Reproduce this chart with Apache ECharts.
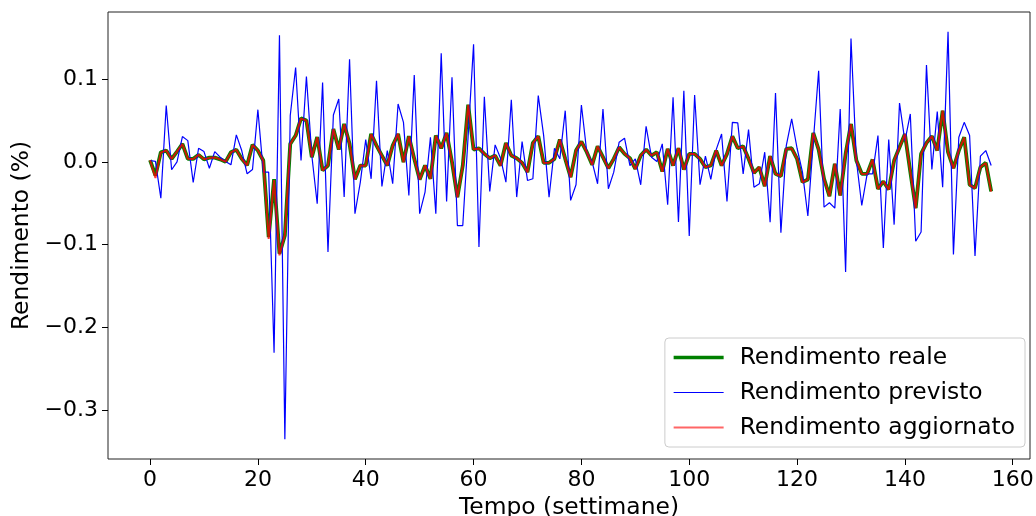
<!DOCTYPE html>
<html>
<head>
<meta charset="utf-8">
<script src="https://cdn.jsdelivr.net/npm/echarts@6/dist/echarts.min.js"></script>
<style>html,body{margin:0;padding:0;background:#fff}#c{width:1036px;height:516px}</style>
</head>
<body>
<div id="c"></div>
<script>
const weeks = Array.from({length: 157}, (_, i) => i);
const xTicks = [0, 20, 40, 60, 80, 100, 120, 140, 160];
const yTicks = [-0.3, -0.2, -0.1, 0.0, 0.1];
const legendNames = ['Rendimento reale', 'Rendimento previsto', 'Rendimento aggiornato'];

const reale = [
0.002,-0.0165,0.0116,0.0136,0.0036,0.0124,0.0217,0.0036,0.0036,0.0084,
0.003,0.005,0.005,0.003,0.0,0.0116,0.0145,0.0036,-0.004,0.0205,
0.0136,0.0016,-0.091,-0.021,-0.111,-0.089,0.0217,0.0317,0.0525,0.05,
0.0056,0.030,-0.0104,-0.0045,0.0397,0.0148,0.0458,0.0217,-0.021,-0.0045,
-0.0045,0.0337,0.0196,0.0076,-0.0045,0.0196,0.0337,-0.0004,0.0309,0.0036,
-0.0213,-0.0045,-0.0205,0.0317,0.0164,0.0349,-0.0004,-0.0426,-0.0045,0.069,
0.0148,0.0164,0.0096,0.0044,0.0076,-0.0045,0.0229,0.0076,0.0044,-0.0012,
-0.0125,0.0229,0.0309,-0.0012,-0.0012,0.0036,0.0269,0.0036,-0.0185,0.0136,
0.0245,0.0116,-0.0036,0.0188,0.0056,-0.0077,0.0036,0.0176,0.0096,0.0044,
-0.0085,0.0076,0.0148,0.0076,0.0116,-0.0117,0.0156,-0.0045,0.0164,-0.0093,
0.0096,0.0096,0.0036,-0.0065,-0.0045,0.0136,-0.0045,0.0096,0.0309,0.0164,
0.0188,0.0036,-0.0133,-0.0065,-0.0294,0.0068,-0.0145,-0.0173,0.0156,0.0164,
0.0036,-0.0245,-0.0213,0.0349,0.0148,-0.0205,-0.0414,-0.0024,-0.0406,0.0096,
0.0458,0.0016,-0.0145,-0.0145,0.0028,-0.0326,-0.0237,-0.0334,0.0016,0.0176,
0.0337,-0.012,-0.0559,0.0096,0.0229,0.0309,0.0136,0.0618,0.0116,-0.0077,
0.0136,0.0297,-0.0277,-0.0318,-0.0065,-0.0012,-0.0358
];

const previsto = [
0.0016,0.0005,-0.044,0.068,-0.0096,0.0,0.0305,0.0256,-0.025,0.0164,
0.0124,-0.0077,0.0124,0.0056,0.0005,-0.0036,0.0325,0.0136,-0.0145,-0.0093,
0.063,-0.0125,-0.0125,-0.2306,0.153,-0.335,0.0558,0.114,0.0016,0.103,
0.0076,-0.0506,0.0959,-0.109,0.0566,0.0759,-0.0426,0.124,-0.0627,-0.0245,
0.0269,-0.0205,0.098,-0.0298,0.0136,-0.0265,0.0699,0.0477,-0.0406,0.1048,
-0.0627,-0.0366,0.0297,-0.0627,0.131,-0.0478,0.102,-0.077,-0.077,0.0317,
0.142,-0.103,0.0787,-0.0358,0.0205,0.0044,-0.0245,0.075,-0.0426,0.0245,
-0.0225,-0.0205,0.08,0.0317,-0.0426,0.0164,0.0036,0.0618,-0.0466,-0.0277,
0.0687,0.0116,-0.0004,-0.0265,0.0639,-0.0325,-0.0125,0.0237,0.0285,-0.0045,
0.0036,-0.0277,0.0429,0.0056,0.0004,0.0217,-0.0518,0.0779,-0.0727,0.0859,
-0.0896,0.0807,-0.0277,0.0068,-0.0213,0.0148,0.0337,-0.0478,0.0477,0.047,
-0.0145,0.0389,-0.0306,-0.0265,0.0116,-0.073,0.083,-0.0856,0.0196,0.0518,
0.0164,-0.0125,-0.0655,0.0237,0.11,-0.0547,-0.0494,-0.0559,0.0639,-0.133,
0.149,0.0016,-0.0527,-0.0145,-0.0145,0.0317,-0.104,0.0269,-0.0759,0.071,
0.025,0.0578,-0.096,-0.0848,0.1168,-0.0093,0.0606,-0.0306,0.157,-0.112,
0.0297,0.0477,0.0317,-0.1137,0.0068,0.0136,-0.0045
];

const aggiornato = [
0.002,-0.0195,0.0112,0.0138,0.0034,0.0126,0.0215,0.0038,0.0034,0.0086,
0.003,0.0048,0.0052,0.003,0.0002,0.0114,0.0147,0.0034,-0.0042,0.0203,
0.0138,0.0014,-0.093,-0.022,-0.113,-0.088,0.0215,0.0319,0.0522,0.0498,
0.0058,0.0298,-0.0106,-0.0043,0.0395,0.015,0.0455,0.0219,-0.0212,-0.0043,
-0.0047,0.0335,0.0198,0.0074,-0.0043,0.0194,0.0339,-0.0006,0.0307,0.0038,
-0.0215,-0.0043,-0.0207,0.0315,0.0166,0.0347,-0.0002,-0.0428,-0.0043,0.0688,
0.015,0.0162,0.0098,0.0042,0.0078,-0.0047,0.0227,0.0078,0.0042,-0.001,
-0.0127,0.0227,0.0311,-0.0014,-0.001,0.0034,0.0271,0.0034,-0.0187,0.0138,
0.0243,0.0118,-0.0038,0.019,0.0054,-0.0079,0.0038,0.0174,0.0098,0.0042,
-0.0087,0.0078,0.0146,0.0078,0.0114,-0.0119,0.0158,-0.0047,0.0166,-0.0095,
0.0098,0.0094,0.0038,-0.0067,-0.0043,0.0138,-0.0047,0.0098,0.0307,0.0166,
0.0186,0.0038,-0.0135,-0.0063,-0.0296,0.007,-0.0147,-0.0171,0.0158,0.0162,
0.0038,-0.0247,-0.0211,0.0347,0.015,-0.0207,-0.0416,-0.0022,-0.0408,0.0098,
0.0456,0.0018,-0.0147,-0.0143,0.003,-0.0328,-0.0235,-0.0336,0.0018,0.0174,
0.0335,-0.0122,-0.0561,0.0098,0.0227,0.0311,0.0134,0.062,0.0114,-0.0079,
0.0138,0.0295,-0.0279,-0.032,-0.0063,-0.0014,-0.036
];

const FONT = 'DejaVu Sans';
const GREEN = '#008000', BLUE = '#0000ff', RED = 'rgba(255,0,0,0.78)', RED_LEGEND = 'rgba(255,0,0,0.6)';
const fmtY = v => (v < 0 ? '\u2212' : '') + Math.abs(v).toFixed(1);
const pair = arr => weeks.map((w, i) => [w, arr[i]]);

const chart = echarts.init(document.getElementById('c'), null, {renderer: 'canvas'});
chart.setOption({
  animation: false,
  backgroundColor: '#fff',
  grid: {left: 108, right: 6, top: 12, bottom: 57, containLabel: false, outerBoundsMode: 'none',
         show: true, borderColor: '#222', borderWidth: 1, backgroundColor: 'transparent'},
  xAxis: {
    type: 'value', min: -7.8, max: 163.2,
    name: 'Tempo (settimane)', nameLocation: 'middle', nameGap: 37,
    nameTextStyle: {fontFamily: FONT, fontSize: 23.4, color: '#000'},
    axisLine: {show: false, onZero: false},
    splitLine: {show: false},
    axisTick: {show: true, inside: false, length: 6, lineStyle: {color: '#000', width: 1}, customValues: xTicks},
    axisLabel: {fontFamily: FONT, fontSize: 22, color: '#000', margin: 10, customValues: xTicks, formatter: v => String(Math.round(v))}
  },
  yAxis: {
    type: 'value', min: -0.359, max: 0.181,
    name: 'Rendimento (%)', nameLocation: 'middle', nameGap: 72, nameRotate: 90,
    nameTextStyle: {fontFamily: FONT, fontSize: 23.4, color: '#000'},
    axisLine: {show: false, onZero: false},
    splitLine: {show: false},
    axisTick: {show: true, inside: false, length: 6, lineStyle: {color: '#000', width: 1}, customValues: yTicks},
    axisLabel: {fontFamily: FONT, fontSize: 22, color: '#000', margin: 10, customValues: yTicks, formatter: fmtY}
  },
  legend: {
    data: [
      {name: legendNames[0], lineStyle: {color: GREEN, width: 3.5}},
      {name: legendNames[1], lineStyle: {color: BLUE, width: 1.2}},
      {name: legendNames[2], lineStyle: {color: RED_LEGEND, width: 1.8}}
    ],
    orient: 'vertical', right: 11, bottom: 69,
    padding: [8, 10, 8, 7],
    itemWidth: 50, itemHeight: 14, itemGap: 12,
    itemStyle: {opacity: 0},
    backgroundColor: 'rgba(255,255,255,0.8)', borderColor: '#ccc', borderWidth: 1, borderRadius: 4,
    textStyle: {fontFamily: FONT, fontSize: 23.4, color: '#000', lineHeight: 23, padding: [0, 0, 0, 11]}
  },
  series: [
    {name: legendNames[0], type: 'line', data: pair(reale), symbol: 'none', showSymbol: false,
     lineStyle: {color: GREEN, width: 3.8}, itemStyle: {color: GREEN}, z: 2},
    {name: legendNames[1], type: 'line', data: pair(previsto), symbol: 'none', showSymbol: false,
     lineStyle: {color: BLUE, width: 1.2}, itemStyle: {color: BLUE}, z: 3},
    {name: legendNames[2], type: 'line', data: pair(aggiornato), symbol: 'none', showSymbol: false,
     lineStyle: {color: RED, width: 2}, itemStyle: {color: RED}, z: 4}
  ]
});
</script>
</body>
</html>
